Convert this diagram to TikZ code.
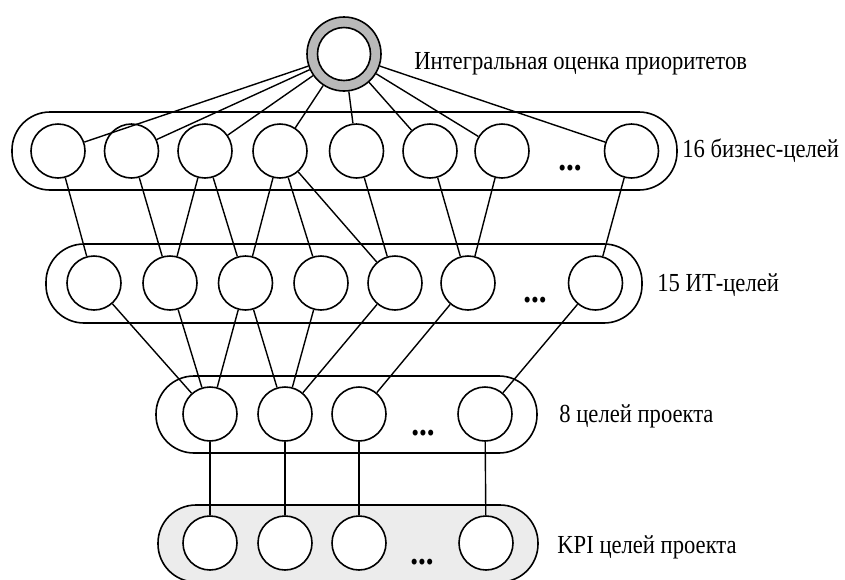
\documentclass[tikz,border=0pt]{standalone}
\usepackage{fontspec}
\setmainfont{Liberation Serif}[FakeStretch=0.87]
\begin{document}
\begin{tikzpicture}[x=0.5pt,y=-0.5pt,
  goal/.style={circle, draw, line width=0.8pt, fill=white, minimum size=27pt, inner sep=0pt},
  group/.style={line width=0.8pt, rounded corners=19pt},
  lbl/.style={anchor=base west, font=\fontsize{13}{15}\selectfont, inner sep=0pt},
  dotsnode/.style={font=\fontsize{18}{18}\selectfont\bfseries, inner sep=0pt},
  link/.style={line width=0.7pt}]
\useasboundingbox (0,0) rectangle (845,579);

% groups
\draw[group] (12,112) rectangle (677,190);
\draw[group] (46,244) rectangle (642,323);
\draw[group] (156,376) rectangle (537,453);
\draw[group, fill=gray!15] (158,505) rectangle (538,582);

% top node
\node[circle, draw, line width=0.8pt, fill=gray!55, minimum size=37pt, inner sep=0pt] (T) at (344,54) {};
\node[circle, draw, line width=0.8pt, fill=white, minimum size=26.5pt, inner sep=0pt] (Tin) at (T) {};
\node[lbl] (LT) at (414,69) {Интегральная оценка приоритетов};

% business goals
\foreach \n/\x in {1/58,2/131.5,3/205,4/280,5/356.5,6/430,7/502,8/631.5}
  \node[goal] (B\n) at (\x,151) {};
\node[dotsnode] (DB) at (570,168) {...};
\node[lbl] (LB) at (682,157) {16 бизнес-целей};

% IT goals
\foreach \n/\x in {1/94,2/170,3/245.5,4/321,5/395,6/468,7/595.5}
  \node[goal] (I\n) at (\x,283) {};
\node[dotsnode] (DI) at (535,300) {...};
\node[lbl] (LI) at (657,291) {15 ИТ-целей};

% project goals
\foreach \n/\x in {1/210,2/285,3/359,4/485}
  \node[goal] (P\n) at (\x,414) {};
\node[dotsnode] (DP) at (423,433) {...};
\node[lbl] (LP) at (559,422) {8 целей проекта};

% KPI
\foreach \n/\x in {1/210,2/285,3/359,4/486}
  \node[goal] (K\n) at (\x,543) {};
\node[dotsnode] (DK) at (422,562) {...};
\node[lbl] (LK) at (557,553) {KPI целей проекта};

% links
\foreach \n in {1,...,8} \draw[link] (T) -- (B\n);
\foreach \a/\b in {1/1,2/2,3/2,3/3,4/3,4/4,4/5,5/5,6/6,7/6,8/7}
  \draw[link] (B\a) -- (I\b);
\foreach \a/\b in {1/1,2/1,3/1,3/2,4/2,5/2,6/3,7/4}
  \draw[link] (I\a) -- (P\b);
\foreach \n in {1,...,4} \draw[link] (P\n) -- (K\n);
\end{tikzpicture}
\end{document}
